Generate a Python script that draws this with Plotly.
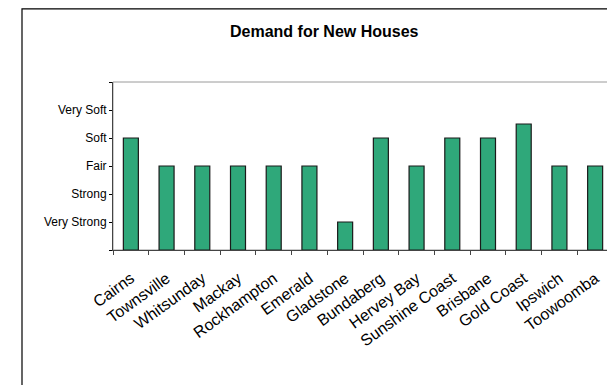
import plotly.graph_objects as go

# Demand rating per region (1 = Very Strong ... 5 = Very Soft)
regions = ["Cairns", "Townsville", "Whitsunday", "Mackay", "Rockhampton", "Emerald",
           "Gladstone", "Bundaberg", "Hervey Bay", "Sunshine Coast", "Brisbane",
           "Gold Coast", "Ipswich", "Toowoomba"]
demand = [4, 3, 3, 3, 3, 3, 1, 4, 3, 4, 4, 4.5, 3, 3]

rating_vals = [0, 1, 2, 3, 4, 5, 6]
rating_text = ["", "Very Strong", "Strong", "Fair", "Soft", "Very Soft", ""]

FONT = "Liberation Sans, Arial, sans-serif"

fig = go.Figure(
    go.Bar(
        x=regions,
        y=demand,
        width=0.42,
        marker=dict(color="#2fa87a", line=dict(color="#1a1a1a", width=1.2)),
    )
)

# page body adds an 8px offset, so the figure is sized to fit the window
fig.update_layout(
    width=607,
    height=377,
    margin=dict(l=105, r=2, t=74, b=135),
    paper_bgcolor="white",
    plot_bgcolor="white",
    showlegend=False,
    font=dict(family=FONT, size=12, color="black"),
    title=dict(
        text="<b>Demand for New Houses</b>",
        x=0.521,
        xanchor="center",
        y=0.939,
        yanchor="middle",
        font=dict(family=FONT, size=16, color="black"),
    ),
)

fig.update_yaxes(
    range=[0, 6],
    tickvals=rating_vals,
    ticktext=rating_text,
    ticks="outside",
    ticklen=3,
    tickcolor="black",
    tickfont=dict(size=12),
    showgrid=False,
    zeroline=False,
    showline=True,
    linecolor="#444444",
    linewidth=1,
    fixedrange=True,
)

fig.update_xaxes(
    tickangle=-36,
    tickfont=dict(size=16),
    ticklabelstandoff=12,
    ticks="outside",
    tickson="boundaries",
    ticklen=4,
    tickcolor="#444444",
    showgrid=False,
    showline=True,
    linecolor="#444444",
    linewidth=1,
    fixedrange=True,
)

# plot-area frame (top/right in grey) and the outer chart border
fig.add_shape(type="rect", xref="paper", yref="paper", x0=0, x1=1, y0=0, y1=1,
              line=dict(color="#9a9a9a", width=1), layer="below")
fig.add_shape(type="rect", xref="paper", yref="paper",
              x0=-0.182, x1=1.2, y0=-1.2, y1=1.435,
              line=dict(color="black", width=1.2))

fig.write_html("out.html")
